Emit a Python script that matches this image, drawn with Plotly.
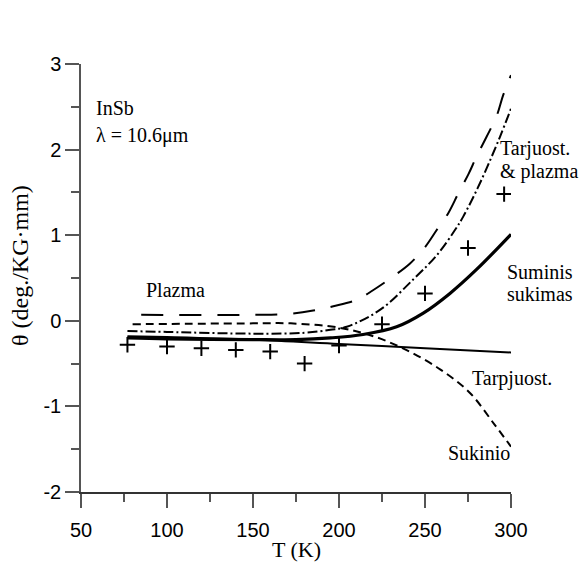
import plotly.graph_objects as go

# Data
T_tarp = [77, 100, 150, 200, 250, 300]
th_tarp = [-0.18, -0.19, -0.22, -0.27, -0.32, -0.37]

T_sum = [77, 100, 150, 175, 195, 214, 233.5, 249, 264.5, 280, 300]
th_sum = [-0.20, -0.21, -0.22, -0.22, -0.20, -0.16, -0.07, 0.09, 0.32, 0.60, 1.01]

T_plaz = [85, 150, 170, 185, 196.7, 210.3, 220, 231.6, 241.3, 250, 256.8, 263.6, 269.4, 275.2, 280, 285.8, 291.6, 295.5, 300]
th_plaz = [0.07, 0.07, 0.08, 0.12, 0.17, 0.245, 0.36, 0.52, 0.67, 0.86, 1.06, 1.26, 1.49, 1.71, 1.92, 2.15, 2.39, 2.64, 2.87]

T_tp = [77, 100, 150, 180, 195, 204.5, 224, 243, 257, 267.4, 272.3, 282, 293.6, 300]
th_tp = [-0.12, -0.13, -0.15, -0.14, -0.105, -0.07, 0.13, 0.48, 0.77, 1.06, 1.22, 1.61, 2.15, 2.48]

T_suk = [80, 150, 172, 200, 220, 239, 259, 276, 290, 300]
th_suk = [-0.04, -0.03, -0.03, -0.08, -0.18, -0.34, -0.57, -0.84, -1.20, -1.47]

T_exp = [77, 100, 120, 140, 160, 180, 200, 225, 250, 275, 296]
th_exp = [-0.28, -0.30, -0.32, -0.34, -0.36, -0.50, -0.29, -0.04, 0.32, 0.85, 1.48]

x_ticks = [50, 100, 150, 200, 250, 300]
x_labels = ["50", "100", "150", "200", "250", "300"]
y_ticks = [-2, -1, 0, 1, 2, 3]
y_labels = ["-2", "-1", "0", "1", "2", "3"]

SERIF = "Liberation Serif, Times New Roman, serif"
SANS = "Liberation Sans, Arial, sans-serif"

fig = go.Figure()
fig.add_trace(go.Scatter(x=T_tarp, y=th_tarp, mode="lines", line=dict(color="black", width=2, shape="spline")))
fig.add_trace(go.Scatter(x=T_sum, y=th_sum, mode="lines", line=dict(color="black", width=3.2, shape="spline")))
fig.add_trace(go.Scatter(x=T_plaz, y=th_plaz, mode="lines", line=dict(color="black", width=2, shape="spline", dash="22px,16px")))
fig.add_trace(go.Scatter(x=T_tp, y=th_tp, mode="lines", line=dict(color="black", width=2, shape="spline", dash="10px,3px,2px,3px")))
fig.add_trace(go.Scatter(x=T_suk, y=th_suk, mode="lines", line=dict(color="black", width=2, shape="spline", dash="8px,5px")))
fig.add_trace(go.Scatter(x=T_exp, y=th_exp, mode="markers",
                         marker=dict(symbol="cross-thin", size=11, line=dict(color="black", width=2))))

annots = [
    ("InSb", 59.3, 2.49),
    ("λ = 10.6μm", 59.3, 2.16),
    ("Plazma", 88.5, 0.36),
    ("Tarjuost.", 294, 2.01),
    ("& plazma", 294, 1.75),
    ("Suminis", 298.5, 0.57),
    ("sukimas", 298.5, 0.31),
    ("Tarpjuost.", 278, -0.67),
    ("Sukinio", 263.7, -1.55),
]
for txt, x, y in annots:
    fig.add_annotation(x=x, y=y, text=txt, showarrow=False, xanchor="left", yanchor="middle",
                       xshift=-2, borderpad=0, font=dict(family=SERIF, size=20, color="black"))

# axis titles
fig.add_annotation(xref="paper", yref="paper", x=-61/430, y=(492 - 266) / 428,
                   text="θ (deg./KG·mm)", textangle=-90, showarrow=False,
                   xanchor="center", yanchor="middle",
                   font=dict(family=SERIF, size=24, color="black"))
fig.add_annotation(xref="paper", yref="paper", x=(296 - 81) / 430, y=(492 - 549) / 428,
                   text="T (K)", showarrow=False, xanchor="center", yanchor="middle",
                   font=dict(family=SERIF, size=22, color="black"))

fig.update_layout(
    width=579, height=562,
    margin=dict(l=81, r=68, t=64, b=70, autoexpand=False),
    paper_bgcolor="white", plot_bgcolor="white",
    showlegend=False,
    xaxis=dict(range=[50, 300], tickvals=x_ticks, ticktext=x_labels, ticks="outside", ticklen=14, tickwidth=1.5,
               tickcolor="#555", showline=True, linecolor="#333", linewidth=1.5, showgrid=False,
               zeroline=False, automargin=False, ticklabelstandoff=5,
               tickfont=dict(family=SANS, size=20, color="black"),
               minor=dict(dtick=25, tick0=50, ticks="outside", ticklen=8, tickwidth=1.5, tickcolor="#555", showgrid=False)),
    yaxis=dict(range=[-2, 3], tickvals=y_ticks, ticktext=y_labels, ticks="outside", ticklen=14, tickwidth=1.5,
               tickcolor="#555", showline=True, linecolor="#555", linewidth=1.5, showgrid=False,
               zeroline=False, automargin=False, tickfont=dict(family=SANS, size=20, color="black"),
               minor=dict(dtick=0.5, tick0=-2, ticks="outside", ticklen=8, tickwidth=1.5, tickcolor="#555", showgrid=False)),
)

fig.write_html("out.html")
